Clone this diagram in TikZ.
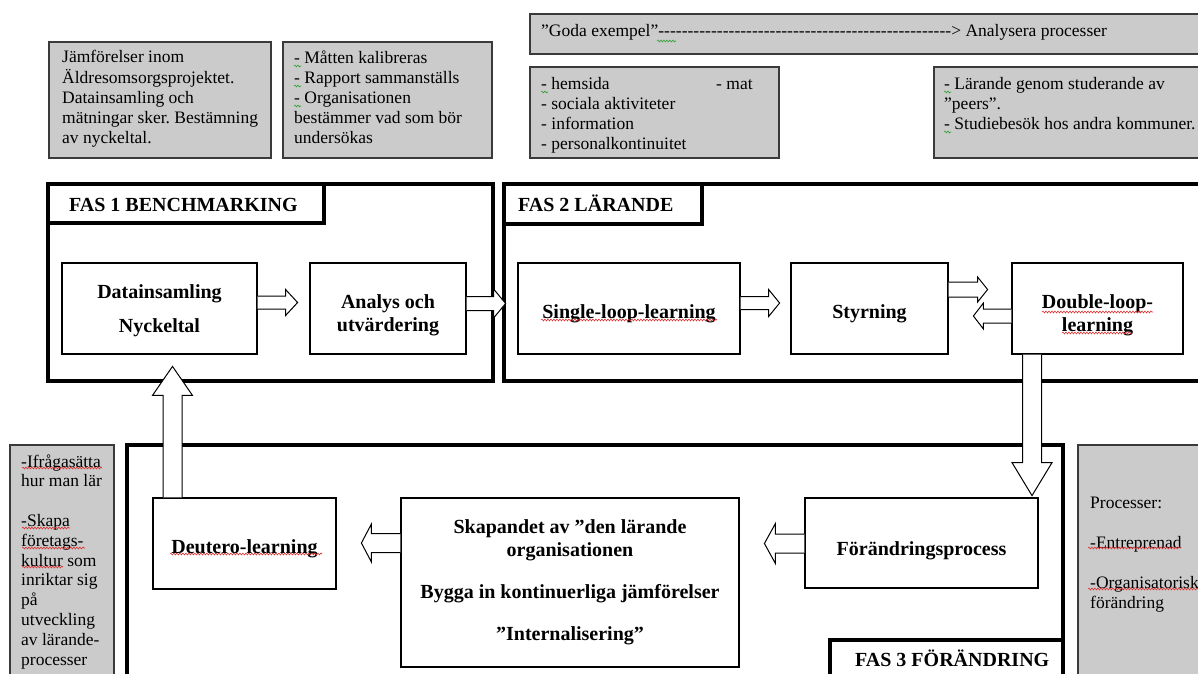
\documentclass[tikz,border=0pt]{standalone}
\usepackage{fontspec}
\setmainfont{Liberation Serif}
\usetikzlibrary{calc,decorations.pathmorphing}
\definecolor{gfill}{HTML}{CBCBCB}
\definecolor{gborder}{HTML}{3A3A3A}
\definecolor{squiggreen}{HTML}{2FA02F}
\definecolor{squigred}{HTML}{E03030}
\newcommand\bodyfs{\fontsize{17.5}{20}\selectfont}
\newcommand\bodyfsb{\fontsize{17.5}{19.8}\selectfont}
\newcommand\boldfs{\fontsize{20}{23}\selectfont\bfseries}
\newcommand\lift[1]{\rule{0pt}{#1}}
\tikzset{
  gbox/.style={draw=gborder, fill=gfill, line width=1.4pt, inner sep=0pt},
  frame/.style={draw=black, line width=3.5pt, inner sep=0pt},
  ibox/.style={draw=black, line width=1.2pt, fill=white, inner sep=0pt, align=center, font=\boldfs},
  btxt/.style={inner sep=0pt, align=left, font=\bodyfs},
  ftxt/.style={inner sep=0pt, font=\boldfs},
  barrow/.style={draw=black, line width=1pt, fill=white, line join=miter},
  squig/.style={decorate, decoration={snake, amplitude=0.9pt, segment length=3pt}, line width=0.6pt},
  pics/barr/.style args={#1/#2/#3/#4}{code={
    \draw[barrow] (0,-#3) -- (#1,-#3) -- (#1,-#4) -- ({#1+#2},0) -- (#1,#4) -- (#1,#3) -- (0,#3);
  }}
}
\begin{document}
\frenchspacing
\begin{tikzpicture}[x=1pt,y=-1pt]
\useasboundingbox (0,0) rectangle (1198,673);
\clip (0,0) rectangle (1198,673);

% grey note boxes
\node[gbox, minimum width=222pt, minimum height=116pt] (g1) at (160,100) {};
\node[gbox, minimum width=209pt, minimum height=116pt] (g2) at (387.5,100) {};
\node[gbox, minimum width=685pt, minimum height=40pt] (g3) at (872.5,34) {};
\node[gbox, minimum width=249pt, minimum height=91pt] (g4) at (654.5,112.5) {};
\node[gbox, minimum width=281pt, minimum height=91pt] (g5) at (1074.5,112.5) {};
\node[gbox, minimum width=104pt, minimum height=255pt] (g6) at (62,572.5) {};
\node[gbox, minimum width=137pt, minimum height=255pt] (g7) at (1146.5,572.5) {};

\node[btxt, anchor=north west] (t1) at (62,48) {\strut J\"amf\"orelser inom\\\"Aldresomsorgsprojektet.\\Datainsamling och\\m\"atningar sker. Best\"amning\\av nyckeltal.};
\node[btxt, anchor=north west] (t2) at (294,49) {\strut- M\aa tten kalibreras\\- Rapport sammanst\"alls\\- Organisationen\\best\"ammer vad som b\"or\\unders\"okas};
\node[btxt, anchor=base west] (t3) at (541,36) {"Goda exempel”\makebox[293pt]{\xleaders\hbox{-}\hfill}> Analysera processer};
\node[btxt, anchor=north west] (t4) at (541,75) {\strut\makebox[175pt][l]{- hemsida}- mat\\- sociala aktiviteter\\- information\\- personalkontinuitet};
\node[btxt, anchor=north west] (t5) at (944,75) {\strut- L\"arande genom studerande av\\"peers”.\\- Studiebes\"ok hos andra kommuner.};
\node[btxt, font=\bodyfsb, anchor=north west] (t6) at (21,453) {\strut -Ifr\aa gas\"atta\\hur man l\"ar\\[19.8pt]-Skapa\\f\"oretags-\\kultur som\\inriktar sig\\p\aa\\utveckling\\av l\"arande-\\processer};
\node[btxt, anchor=north west] (t7) at (1090,494) {\strut Processer:\\[20pt]-Entreprenad\\[20pt]-Organisatorisk\\f\"or\"andring};

% phase frames
\node[frame, minimum width=445pt, minimum height=197pt] (f1) at (270.5,282.5) {};
\node[frame, minimum width=711pt, minimum height=197pt] (f2) at (859.5,282.5) {};
\node[frame, minimum width=936pt, minimum height=265pt] (f3) at (595,577.5) {};
\node[frame, minimum width=276pt, minimum height=39pt] (l1) at (186,203.5) {};
\node[frame, minimum width=198pt, minimum height=40pt] (l2) at (603,204) {};
\node[frame, fill=white, minimum width=233pt, minimum height=70pt] (l3) at (946.5,675) {};
\node[ftxt, anchor=base west] (l1t) at (69,211) {FAS 1 BENCHMARKING};
\node[ftxt, anchor=base west] (l2t) at (518,211) {FAS 2 L\"ARANDE};
\node[ftxt, anchor=base west] (l3t) at (855,666) {FAS 3 F\"OR\"ANDRING};

% process boxes
\node[ibox, minimum width=195pt, minimum height=91pt] (d1) at (159.5,308.5) {\lift{18pt}Datainsamling\\[11pt]Nyckeltal};
\node[ibox, minimum width=156pt, minimum height=91pt] (an) at (388,308.5) {\lift{27pt}Analys och\\utv\"ardering};
\node[ibox, minimum width=222pt, minimum height=91pt] (sl) at (629,308.5) {\lift{24pt}Single-loop-learning};
\node[ibox, minimum width=157pt, minimum height=91pt] (st) at (869.5,308.5) {\lift{24pt}Styrning};
\node[ibox, minimum width=171pt, minimum height=91pt] (dl) at (1097.5,308.5) {\lift{27pt}Double-loop-\\learning};
\node[ibox, minimum width=183pt, minimum height=91pt] (de) at (244.5,543.5) {\lift{24pt}Deutero-learning};
\node[ibox, minimum width=338pt, minimum height=169pt] (sk) at (570,582.5) {Skapandet av ”den l\"arande\\organisationen\\[19pt]Bygga in kontinuerliga j\"amf\"orelser\\[19pt]”Internalisering”};
\node[ibox, minimum width=233pt, minimum height=90pt] (fp) at (921.5,543) {\lift{29pt}F\"or\"andringsprocess};

% block arrows
\pic at ($(d1.east)+(0,-6)$) {barr=28/12/6.5/13};
\pic at ($(an.east)+(0,-5)$) {barr=27/12/7/14.5};
\pic at ($(sl.east)+(0,-5.5)$) {barr=28/11/6.5/13.5};
\pic at ($(st.east)+(0,-19)$) {barr=29/10/7.5/12.5};
\pic[rotate=180] at ($(dl.west)+(0,7.5)$) {barr=28/10/7/13};
\pic[rotate=-90] at ($(dl.south)+(-65.5,0)$) {barr=108/33/9.5/20};
\pic[rotate=180] at ($(fp.west)+(0,0.5)$) {barr=29/11/9.5/20};
\pic[rotate=180] at ($(sk.west)+(0,-39.5)$) {barr=29/10/9.5/19};
\pic[rotate=90] at ($(de.north)+(-72,0)$) {barr=102/29/9.5/20};

% spell-check squiggles
\draw[squig, squigred] (541,320) -- (717,320);
\draw[squig, squigred] (1042,312) -- (1153,312);
\draw[squig, squigred] (1062,333) -- (1132,333);
\draw[squig, squigred] (170,554) -- (322,554);
\draw[squig, squigred] (22,468) -- (102,468);
\draw[squig, squigred] (22,528) -- (70,528);
\draw[squig, squigred] (22,548) -- (85,548);
\draw[squig, squigred] (22,567) -- (63,567);
\draw[squig, squigred] (1088,548) -- (1181,548);
\draw[squig, squigred] (1088,589) -- (1198,589);
\draw[squig, squiggreen] (294,66) -- (301,66);
\draw[squig, squiggreen] (294,86) -- (301,86);
\draw[squig, squiggreen] (294,106) -- (301,106);
\draw[squig, squiggreen] (541,92) -- (548,92);
\draw[squig, squiggreen] (944,92) -- (951,92);
\draw[squig, squiggreen] (944,132) -- (951,132);
\draw[squig, squiggreen] (657,41) -- (676,41);
\end{tikzpicture}
\end{document}
